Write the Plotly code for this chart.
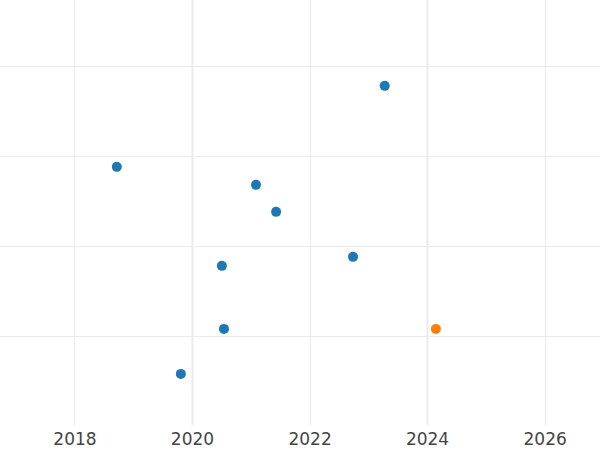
import plotly.graph_objects as go

dates_blue = ["2023-04-10", "2018-09-18", "2021-01-30", "2021-06-04", "2022-09-25",
              "2020-07-02", "2020-07-15", "2019-10-21"]
values_blue = [3.79, 2.89, 2.69, 2.39, 1.89, 1.79, 1.09, 0.59]
dates_orange = ["2024-02-22"]
values_orange = [1.09]
emphasis_dates = ["2020-01-01", "2024-01-01"]

fig = go.Figure()
fig.add_trace(go.Scatter(x=dates_blue, y=values_blue, mode="markers",
                         marker=dict(color="#1f77b4", size=10), showlegend=False))
fig.add_trace(go.Scatter(x=dates_orange, y=values_orange, mode="markers",
                         marker=dict(color="#ff7f0e", size=10), showlegend=False))
for d in emphasis_dates:
    fig.add_shape(type="line", x0=d, x1=d, y0=0, y1=1, yref="paper",
                  line=dict(color="#ebebeb", width=2), layer="below")

fig.update_layout(
    width=600, height=450,
    margin=dict(l=0, r=0, t=0, b=25),
    plot_bgcolor="white", paper_bgcolor="white",
    font=dict(family="DejaVu Sans", size=17, color="#444444"),
    xaxis=dict(range=["2016-09-22", "2026-12-08"], dtick="M24", tick0="2018-01-01",
               tickformat="%Y", showgrid=True, gridcolor="#ebebeb", gridwidth=1,
               zeroline=False, showline=False, ticks="", ticklabelstandoff=2),
    yaxis=dict(range=[0.022, 4.744], dtick=1, tick0=0, showgrid=True, gridcolor="#ebebeb",
               gridwidth=1, zeroline=False, showticklabels=False, ticks=""),
)
fig.write_html("out.html", config={"displayModeBar": False},
               post_script="document.body.style.margin='0';")
